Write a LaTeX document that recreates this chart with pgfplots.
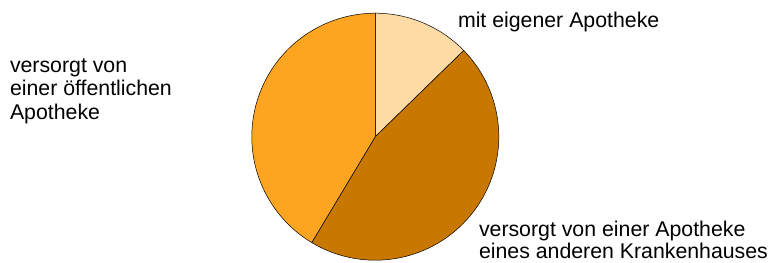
\documentclass[border=0pt]{standalone}
\usepackage{pgfplots}
\pgfplotsset{compat=1.18}
\usepackage{fontspec}
\setmainfont{Liberation Sans}
\definecolor{cLight}{RGB}{254,218,165}
\definecolor{cDark}{RGB}{200,120,0}
\definecolor{cMed}{RGB}{253,165,32}
% shares in percent
\def\vA{12.7}
\def\vB{45.9}
\def\vC{41.4}
\pgfmathsetmacro\aA{90}
\pgfmathsetmacro\aB{\aA-3.6*\vA}
\pgfmathsetmacro\aC{\aB-3.6*\vB}
\pgfmathsetmacro\aD{\aC-3.6*\vC}
\def\cx{375.3}
\def\cy{125.3}
\def\rr{123.5}
\tikzset{lab/.style={inner sep=0pt,outer sep=0pt,anchor=base west,font=\fontsize{21.3bp}{24bp}\selectfont}}
\begin{document}
\begin{tikzpicture}
\begin{axis}[x=1bp,y=1bp,xmin=0,xmax=771,ymin=0,ymax=262,hide axis,clip=false,
  scale only axis,ticks=none]
\addplot[fill=cLight,draw=black,line width=0.5pt,domain=\aB:\aA,samples=80,variable=\t]
  ({\cx+\rr*cos(\t)},{\cy+\rr*sin(\t)}) -- (axis cs:\cx,\cy) -- cycle;
\addplot[fill=cDark,draw=black,line width=0.5pt,domain=\aC:\aB,samples=120,variable=\t]
  ({\cx+\rr*cos(\t)},{\cy+\rr*sin(\t)}) -- (axis cs:\cx,\cy) -- cycle;
\addplot[fill=cMed,draw=black,line width=0.5pt,domain=\aD:\aC,samples=120,variable=\t]
  ({\cx+\rr*cos(\t)},{\cy+\rr*sin(\t)}) -- (axis cs:\cx,\cy) -- cycle;
\node[lab] at (axis cs:458,235) {mit eigener Apotheke};
\node[lab] at (axis cs:10,190) {versorgt von};
\node[lab] at (axis cs:10,166.5) {einer öffentlichen};
\node[lab] at (axis cs:10,143) {Apotheke};
\node[lab] at (axis cs:479,25.5) {versorgt von einer Apotheke};
\node[lab] at (axis cs:479,3.5) {eines anderen Krankenhauses};
\end{axis}
\path (current axis.south west) rectangle (current axis.north east);
\end{tikzpicture}
\end{document}
